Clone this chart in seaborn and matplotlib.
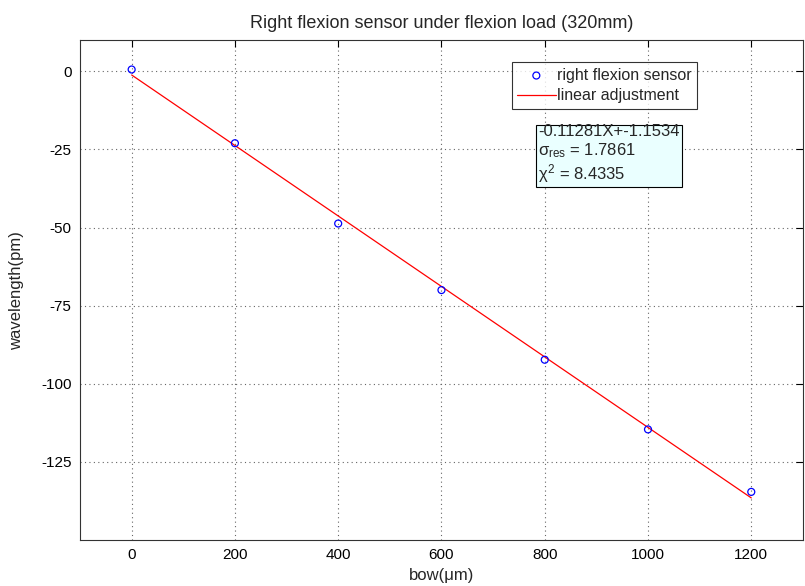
import numpy as np
import pandas as pd
import matplotlib
matplotlib.use("Agg")
import matplotlib.pyplot as plt
import seaborn as sns

# measured points
bow = [0, 200, 400, 600, 800, 1000, 1200]
wavelength = [0.6, -23.0, -48.7, -70.0, -92.3, -114.6, -134.6]

# fit parameters shown in the text box
slope = -0.11281
intercept = -1.1534
sigma_res = 1.7861
chi2 = 8.4335

xticks = [0, 200, 400, 600, 800, 1000, 1200]
yticks = [0, -25, -50, -75, -100, -125]

sns.set_style("white")
plt.rcParams['font.family'] = ['Liberation Sans', 'DejaVu Sans']
plt.rcParams['mathtext.fontset'] = 'custom'
plt.rcParams['mathtext.rm'] = 'Liberation Sans'
plt.rcParams['mathtext.it'] = 'Liberation Sans'
plt.rcParams['axes.unicode_minus'] = False

data = pd.DataFrame({'bow': bow, 'wavelength': wavelength})
fit = pd.DataFrame({'bow': [bow[0], bow[-1]]})
fit['wavelength'] = slope * fit['bow'] + intercept

fig = plt.figure(figsize=(8.05, 5.86), dpi=100)
ax = fig.add_axes([0.0994, 0.0785, 0.898, 0.853])

sns.scatterplot(data=data, x='bow', y='wavelength', ax=ax, marker='o', s=25,
                facecolors='none', edgecolor='blue', linewidth=0.9,
                label='right flexion sensor', zorder=3)
sns.lineplot(data=fit, x='bow', y='wavelength', ax=ax, color='red',
             linewidth=0.9, label='linear adjustment', zorder=2)

ax.set_xlim(-100, 1300)
ax.set_ylim(-150, 10)
ax.set_xticks(xticks)
ax.set_yticks(yticks)
ax.tick_params(labelsize=11, direction='in', length=5, width=0.8, colors='black',
               top=True, right=True, pad=6)
ax.grid(True, color='#666666', linestyle=(0, (1, 3)), linewidth=0.8)
for s in ax.spines.values():
    s.set_color('#333333')
    s.set_linewidth(0.8)

ax.set_xlabel('bow(μm)', fontsize=12, labelpad=4)
ax.set_ylabel('wavelength(pm)', fontsize=12, labelpad=12)
ax.set_title('Right flexion sensor under flexion load (320mm)', fontsize=13, pad=9)

leg = ax.legend(loc='upper left', bbox_to_anchor=(0.597, 0.956), fontsize=11.5,
                frameon=True, fancybox=False, edgecolor='black', borderpad=0.35,
                handlelength=2.4, handletextpad=0.1, labelspacing=0.35,
                borderaxespad=0)
leg.get_frame().set_linewidth(0.8)

txt = (f'{slope}X+{intercept}\n'
       r'$\sigma_{\rm res}$' + f' = {sigma_res}\n'
       r'$\chi^{2}$' + f' = {chi2}')
ax.text(0.634, 0.832, txt, transform=ax.transAxes, fontsize=12, va='top',
        ha='left', linespacing=1.15,
        bbox=dict(boxstyle='square,pad=0.12', facecolor='#eaffff',
                  edgecolor='black', linewidth=0.8))

fig.savefig('out.png', dpi=100)
